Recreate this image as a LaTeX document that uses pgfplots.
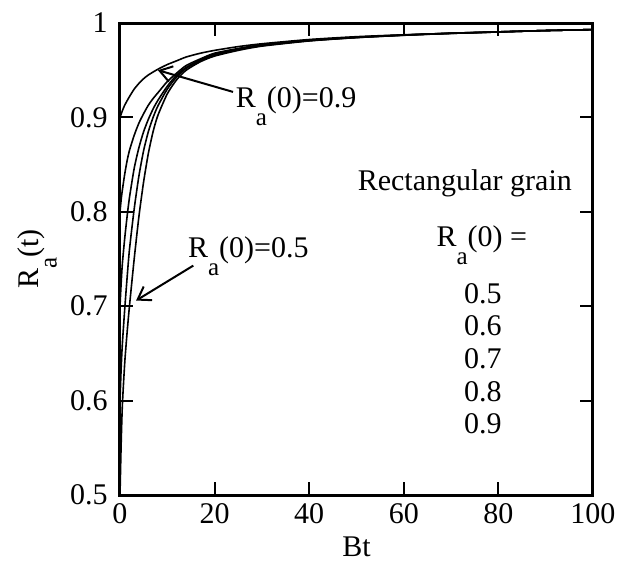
\documentclass[border=0pt]{standalone}
\usepackage{fontspec}
\setmainfont{Liberation Serif}
\usepackage{pgfplots}
\pgfplotsset{compat=1.18}
\usetikzlibrary{arrows.meta}
\newcommand{\ra}{R\raisebox{-0.6em}{\fontsize{12.5}{12.5}\selectfont a}}
\pgfplotsset{curve/.style={black, line width=0.8pt, no markers, smooth, tension=0.4}}

\begin{document}
\begin{tikzpicture}
\begin{axis}[
    scale only axis,
    width=236.5pt, height=236pt,
    xmin=0, xmax=100, ymin=0.5, ymax=1,
    xtick={0,20,40,60,80,100},
    ytick={0.5,0.6,0.7,0.8,0.9,1},
    font=\fontsize{15}{18}\selectfont,
    /pgf/number format/assume math mode=true,
    axis line style={line width=1.5pt},
    major tick length=6.5pt,
    tick style={line width=1pt, black},
    minor tick num=0,
    xlabel={Bt},
    ylabel={\ra(t)},
    xlabel style={at={(axis description cs:0.5,-0.11)}, anchor=center},
    ylabel style={at={(axis description cs:-0.175,0.5)}, anchor=center},
    yticklabel style={inner xsep=0pt, xshift=-6pt},
    xticklabel style={inner ysep=0pt, yshift=-4pt},
]
% R_a(0)=0.5
\addplot[curve] coordinates {
(0,0.5) (0.25,0.555) (0.5,0.595) (1,0.64) (1.5,0.672) (2,0.70)
(3,0.75) (4,0.795) (5,0.832) (6,0.862) (7,0.885) (8,0.902)
(10,0.925) (12,0.94) (14,0.95) (17,0.959) (20,0.965) (25,0.971)
(30,0.9755) (40,0.981) (50,0.9845) (60,0.987) (70,0.989) (80,0.9905)
(90,0.992) (100,0.993)
};
% R_a(0)=0.6
\addplot[curve] coordinates {
(0,0.6) (0.25,0.635) (0.5,0.66) (1,0.697) (1.5,0.73) (2,0.76)
(3,0.803) (4,0.838) (5,0.865) (6,0.885) (7,0.9) (8,0.912)
(10,0.93) (12,0.943) (14,0.952) (17,0.96) (20,0.966) (25,0.972)
(30,0.976) (40,0.9812) (50,0.9846) (60,0.9871) (70,0.9891) (80,0.9906)
(90,0.992) (100,0.993)
};
% R_a(0)=0.7
\addplot[curve] coordinates {
(0,0.7) (0.25,0.725) (0.5,0.745) (1,0.772) (1.5,0.795) (2,0.815)
(3,0.846) (4,0.868) (5,0.885) (6,0.898) (7,0.909) (8,0.918)
(10,0.933) (12,0.945) (14,0.953) (17,0.961) (20,0.967) (25,0.9725)
(30,0.9765) (40,0.9815) (50,0.9848) (60,0.9872) (70,0.9892) (80,0.9906)
(90,0.992) (100,0.993)
};
% R_a(0)=0.8
\addplot[curve] coordinates {
(0,0.8) (0.25,0.813) (0.5,0.823) (1,0.84) (1.5,0.854) (2,0.865)
(3,0.881) (4,0.894) (5,0.904) (6,0.913) (7,0.92) (8,0.926)
(10,0.938) (12,0.947) (14,0.955) (17,0.962) (20,0.968) (25,0.973)
(30,0.977) (40,0.982) (50,0.985) (60,0.9873) (70,0.9892) (80,0.9906)
(90,0.992) (100,0.993)
};
% R_a(0)=0.9
\addplot[curve] coordinates {
(0,0.9) (0.5,0.907) (1,0.913) (2,0.922) (3,0.93) (4,0.936)
(5,0.941) (6,0.945) (8,0.951) (10,0.956) (12,0.96) (14,0.964)
(17,0.968) (20,0.971) (25,0.975) (30,0.978) (40,0.9825) (50,0.9855)
(60,0.9875) (70,0.989) (80,0.9905) (90,0.992) (100,0.993)
};

\draw[line width=1pt, -{Straight Barb[length=6pt,width=8pt]}] (axis cs:23.9,0.927) -- (axis cs:8.0,0.950);
\draw[line width=1pt, -{Straight Barb[length=6pt,width=8pt]}] (axis cs:15.5,0.743) -- (axis cs:3.4,0.706);
\node[anchor=base west, inner sep=0pt] at (axis cs:24.4,0.910) {\ra(0)=0.9};
\node[anchor=base west, inner sep=0pt] at (axis cs:14.3,0.752) {\ra(0)=0.5};

\node[anchor=base, inner sep=0pt] at (axis cs:72.9,0.823) {Rectangular grain};
\node[anchor=base, inner sep=0pt] at (axis cs:76.5,0.763) {\ra(0) =};
\node[anchor=base, inner sep=0pt] at (axis cs:76.7,0.703) {0.5};
\node[anchor=base, inner sep=0pt] at (axis cs:76.7,0.6685) {0.6};
\node[anchor=base, inner sep=0pt] at (axis cs:76.7,0.634) {0.7};
\node[anchor=base, inner sep=0pt] at (axis cs:76.7,0.5995) {0.8};
\node[anchor=base, inner sep=0pt] at (axis cs:76.7,0.565) {0.9};
\end{axis}
\pgfresetboundingbox
\path[use as bounding box] (current axis.south west) ++(-60pt,-40pt) rectangle ++(311.5pt,287.5pt);
\end{tikzpicture}
\end{document}
